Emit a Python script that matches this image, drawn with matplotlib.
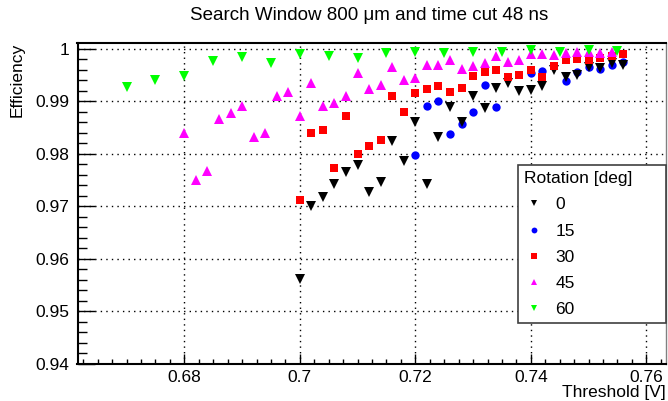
import matplotlib
matplotlib.use("Agg")
import matplotlib.pyplot as plt
from matplotlib.ticker import MultipleLocator

plt.rcParams['font.family'] = ['Liberation Sans', 'DejaVu Sans']

# Threshold scans, efficiency per detector rotation
thr_0 = [0.700, 0.702, 0.704, 0.706, 0.708, 0.710, 0.712, 0.714, 0.716, 0.718,
         0.720, 0.722, 0.724, 0.726, 0.728, 0.730, 0.732, 0.734, 0.736, 0.738,
         0.740, 0.742, 0.744, 0.746, 0.748, 0.750, 0.752, 0.754, 0.756]
eff_0 = [0.9562, 0.9701, 0.9717, 0.9743, 0.9765, 0.9779, 0.9728, 0.9746, 0.9825, 0.9786,
         0.9860, 0.9743, 0.9832, 0.9889, 0.9861, 0.9911, 0.9887, 0.9926, 0.9934, 0.9919,
         0.9922, 0.9930, 0.9959, 0.9946, 0.9951, 0.9966, 0.9963, 0.9972, 0.9970]

thr_15 = [0.720, 0.722, 0.724, 0.726, 0.728, 0.730, 0.732, 0.734,
          0.740, 0.742, 0.746, 0.748, 0.750, 0.752, 0.754, 0.756]
eff_15 = [0.9797, 0.9892, 0.9901, 0.9838, 0.9856, 0.9880, 0.9932, 0.9889,
          0.9954, 0.9957, 0.9938, 0.9955, 0.9966, 0.9961, 0.9970, 0.9974]

thr_30 = [0.700, 0.702, 0.704, 0.706, 0.708, 0.710, 0.712, 0.714, 0.716, 0.718,
          0.720, 0.722, 0.724, 0.726, 0.728, 0.730, 0.732, 0.734, 0.736, 0.738,
          0.740, 0.742, 0.744, 0.746, 0.748, 0.750, 0.752, 0.754, 0.756]
eff_30 = [0.9712, 0.9839, 0.9846, 0.9773, 0.9872, 0.9799, 0.9815, 0.9826, 0.9911, 0.9879,
          0.9916, 0.9923, 0.9930, 0.9918, 0.9925, 0.9949, 0.9956, 0.9959, 0.9947, 0.9951,
          0.9959, 0.9946, 0.9968, 0.9978, 0.9981, 0.9978, 0.9982, 0.9986, 0.9990]

thr_45 = [0.680, 0.682, 0.684, 0.686, 0.688, 0.690, 0.692, 0.694, 0.696, 0.698,
          0.700, 0.702, 0.704, 0.706, 0.708, 0.710, 0.712, 0.714, 0.716, 0.718,
          0.720, 0.722, 0.724, 0.726, 0.728, 0.730, 0.732, 0.734, 0.736, 0.738,
          0.740, 0.742, 0.744, 0.746, 0.748, 0.750, 0.752, 0.754]
eff_45 = [0.9840, 0.9750, 0.9768, 0.9867, 0.9877, 0.9891, 0.9832, 0.9839, 0.9910, 0.9918,
          0.9873, 0.9934, 0.9891, 0.9896, 0.9911, 0.9953, 0.9923, 0.9932, 0.9965, 0.9941,
          0.9945, 0.9970, 0.9970, 0.9979, 0.9962, 0.9968, 0.9972, 0.9987, 0.9975, 0.9978,
          0.9990, 0.9991, 0.9989, 0.9992, 0.9993, 0.9993, 0.9992, 0.9993]

thr_60 = [0.670, 0.675, 0.680, 0.685, 0.690, 0.695, 0.700, 0.705, 0.710,
          0.715, 0.720, 0.725, 0.730, 0.735, 0.740, 0.745, 0.750, 0.755]
eff_60 = [0.9927, 0.9941, 0.9949, 0.9977, 0.9985, 0.9973, 0.9990, 0.9987, 0.9982,
          0.9992, 0.9993, 0.9992, 0.9994, 0.9993, 0.9998, 0.9994, 0.9998, 0.9996]

rotation_labels = ['0', '15', '30', '45', '60']

fig = plt.figure(figsize=(6.68, 4.01), dpi=100)
ax = fig.add_axes([77.5 / 668, 1 - 364 / 401, (666 - 77.5) / 668, (364 - 43) / 401])

series = [
    (thr_0, eff_0, 'v', 'black', 7.0, 3),
    (thr_15, eff_15, 'o', '#0000ff', 6.0, 2),
    (thr_30, eff_30, 's', '#ff0000', 5.6, 4),
    (thr_45, eff_45, '^', '#ff00ff', 7.0, 5),
    (thr_60, eff_60, 'v', '#00ff00', 7.0, 6),
]
handles = []
for (xs, ys, mk, col, ms, z), lab in zip(series, rotation_labels):
    h, = ax.plot(xs, ys, linestyle='none', marker=mk, color=col,
                 markersize=ms, markeredgewidth=0, zorder=z, label=lab)
    handles.append(h)

ax.set_xlim(0.6615, 0.7634)
ax.set_ylim(0.94, 1.0011)

ax.xaxis.set_major_locator(MultipleLocator(0.02))
ax.xaxis.set_minor_locator(MultipleLocator(0.0025))
ax.yaxis.set_major_locator(MultipleLocator(0.01))
ax.yaxis.set_minor_locator(MultipleLocator(0.002))

ax.xaxis.set_major_formatter(plt.FuncFormatter(lambda v, p: ('%g' % round(v, 4))))
ax.yaxis.set_major_formatter(plt.FuncFormatter(lambda v, p: ('%g' % round(v, 4))))

ax.tick_params(axis='both', which='both', direction='in', width=1.0,
               labelsize=12.5, colors='black')
ax.tick_params(axis='y', which='major', length=12.5, pad=6)
ax.tick_params(axis='y', which='minor', length=6.5)
ax.tick_params(axis='x', which='major', length=7, pad=4)
ax.tick_params(axis='x', which='minor', length=3.5)

ax.grid(True, which='major', color='black', linestyle=(0, (1, 3)), linewidth=1.0)
ax.set_axisbelow(True)

for s in ['left', 'bottom', 'top']:
    ax.spines[s].set_linewidth(1.5)
    ax.spines[s].set_color('black')
ax.spines['right'].set_linewidth(1.0)
ax.spines['right'].set_color('#808080')

fig.text(369 / 668, 1 - 15 / 401, 'Search Window 800 \u03bcm and time cut 48 ns',
         ha='center', va='center', fontsize=13.5)
fig.text(666 / 668, 0.5 / 401, 'Threshold [V]', ha='right', va='bottom', fontsize=12.5)
fig.text(17 / 668, 1 - 43 / 401, 'Efficiency', ha='center', va='top',
         rotation=90, fontsize=12.5)

leg = ax.legend(handles=handles, title='Rotation [deg]', loc='upper left',
                bbox_to_anchor=(518 / 668, 1 - 165 / 401, (666 - 518) / 668, 0.0),
                bbox_transform=fig.transFigure, mode='expand',
                fontsize=12.5, title_fontsize=12.5, frameon=True, fancybox=False,
                borderaxespad=0, borderpad=0.35, labelspacing=0.64,
                handlelength=1.2, handletextpad=0.6, markerscale=0.7)
leg._legend_box.align = 'left'
leg.get_frame().set_edgecolor('#404040')
leg.get_frame().set_linewidth(1.2)
leg.get_frame().set_alpha(1.0)
leg.set_zorder(10)

fig.savefig('out.png', dpi=100)
